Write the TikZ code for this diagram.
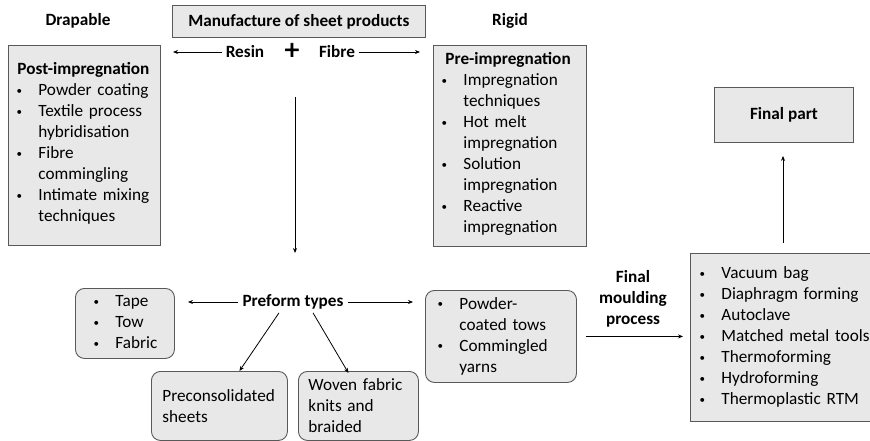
\documentclass[tikz,border=0pt]{standalone}
\usepackage{fontspec}
\setmainfont{Carlito}
\newfontface\heavyplus[FakeBold=3]{Carlito}
\usetikzlibrary{arrows.meta,positioning,calc}
\newcommand{\bul}{\makebox[8pt]{\fontsize{11}{11}\selectfont\raisebox{1.5pt}{\textbullet}}}

\begin{document}
\begin{tikzpicture}[
  x=1pt, y=-1pt,
  font=\fontsize{17.2}{21}\selectfont,
  sqbox/.style={draw=black!65,fill=black!9,line width=0.9pt,anchor=north west,
                align=left,inner xsep=7pt,inner ysep=0pt},
  rbox/.style={sqbox,rounded corners=9pt},
  hd/.style={font=\fontsize{17.2}{21}\selectfont\bfseries},
  arr/.style={-{Stealth[length=5pt,width=4pt]},line width=0.8pt},
]
  \useasboundingbox (0,0) rectangle (870,441);

  % top row
  \node[hd] (drap) at (78,21) {Drapable};
  \node[sqbox,hd,minimum width=253,minimum height=32] (manuf) at (172,5) {Manufacture of sheet products};
  \node[hd] (rigid) at (510,21) {Rigid};
  \node[hd] (resin) at (245,52) {Resin};
  \node[font=\fontsize{28}{28}\selectfont\heavyplus,inner sep=0pt] (plus) at (292,51) {+};
  \node[hd] (fibre) at (337,52) {Fibre};
  \coordinate (rtip) at (173,52);
  \coordinate (ftip) at (420,52);
  \draw[arr] (resin.west) -- (rtip);
  \draw[arr] (fibre.east) -- (ftip);

  % impregnation boxes
  \node[sqbox,minimum width=152,minimum height=200,text width=138] (post) at (8,45) {%
    \hspace*{2pt}\textbf{Post-impregnation}\\
    \begin{tabular}[t]{@{}l@{\hspace{15pt}}l@{}}
      \bul & Powder coating\\
      \bul & Textile process\\
           & hybridisation\\
      \bul & Fibre\\
           & commingling\\
      \bul & Intimate mixing\\
           & techniques
    \end{tabular}};
  \node[sqbox,minimum width=153,minimum height=201,text width=139] (pre) at (433,45) {%
    \hspace*{5pt}\textbf{Pre-impregnation}\\
    \begin{tabular}[t]{@{}l@{\hspace{15pt}}l@{}}
      \bul & Impregnation\\
           & techniques\\
      \bul & Hot melt\\
           & impregnation\\
      \bul & Solution\\
           & impregnation\\
      \bul & Reactive\\
           & impregnation
    \end{tabular}};

  \coordinate (vtop) at (295,97);
  \coordinate (vbot) at (295,253);
  \draw[arr] (vtop) -- (vbot);

  % preform types
  \node[hd] (pf) at (293,302) {Preform types};
  \node[rbox,inner xsep=9pt,minimum width=99,minimum height=70] (tape) at (75,288) {%
    \begin{tabular}{@{}l@{\hspace{15pt}}l@{}}
      \bul & Tape\\
      \bul & Tow\\
      \bul & Fabric
    \end{tabular}};
  \node[rbox,inner xsep=11pt,minimum width=151,minimum height=92,text width=129] (powder) at (425,290) {%
    \begin{tabular}[t]{@{}l@{\hspace{15pt}}l@{}}
      \bul & Powder-\\
           & coated tows\\
      \bul & Commingled\\
           & yarns
    \end{tabular}};
  \node[rbox,inner xsep=11pt,minimum width=136,minimum height=69,text width=114] (precon) at (151,371)
    {Preconsolidated\\sheets};
  \node[rbox,inner xsep=10pt,minimum width=120,minimum height=69,text width=100] (woven) at (298,371)
    {Woven fabric\\knits and\\braided};

  \draw[arr,shorten <=1pt,shorten >=13pt] (pf.west) -- (pf.west -| tape.east);
  \draw[arr,shorten <=1pt,shorten >=12pt] (pf.east) -- (pf.east -| powder.west);
  \draw[arr] ($(pf.south)+(-14,0)$) -- ($(precon.north)+(20,0)$);
  \draw[arr] ($(pf.south)+(20,0)$) -- ($(woven.north)+(-10,2)$);

  % final moulding
  \node[sqbox,inner xsep=8pt,minimum width=186,minimum height=168,text width=170] (proc) at (690,253) {%
    \begin{tabular}[t]{@{}l@{\hspace{15pt}}l@{}}
      \bul & Vacuum bag\\
      \bul & Diaphragm forming\\
      \bul & Autoclave\\
      \bul & Matched metal tools\\
      \bul & Thermoforming\\
      \bul & Hydroforming\\
      \bul & Thermoplastic RTM
    \end{tabular}};
  \node[hd,align=center] (fmp) at (633,299) {Final\\moulding\\process};
  \draw[arr,shorten <=9pt,shorten >=7pt] (powder.east) -- (powder.east -| proc.west);

  \node[sqbox,hd,minimum width=139,minimum height=55] (final) at (714,87) {Final part};
  \coordinate (utail) at (783,243);
  \draw[arr,shorten >=13pt] (utail) -- (utail |- final.south);
\end{tikzpicture}
\end{document}
